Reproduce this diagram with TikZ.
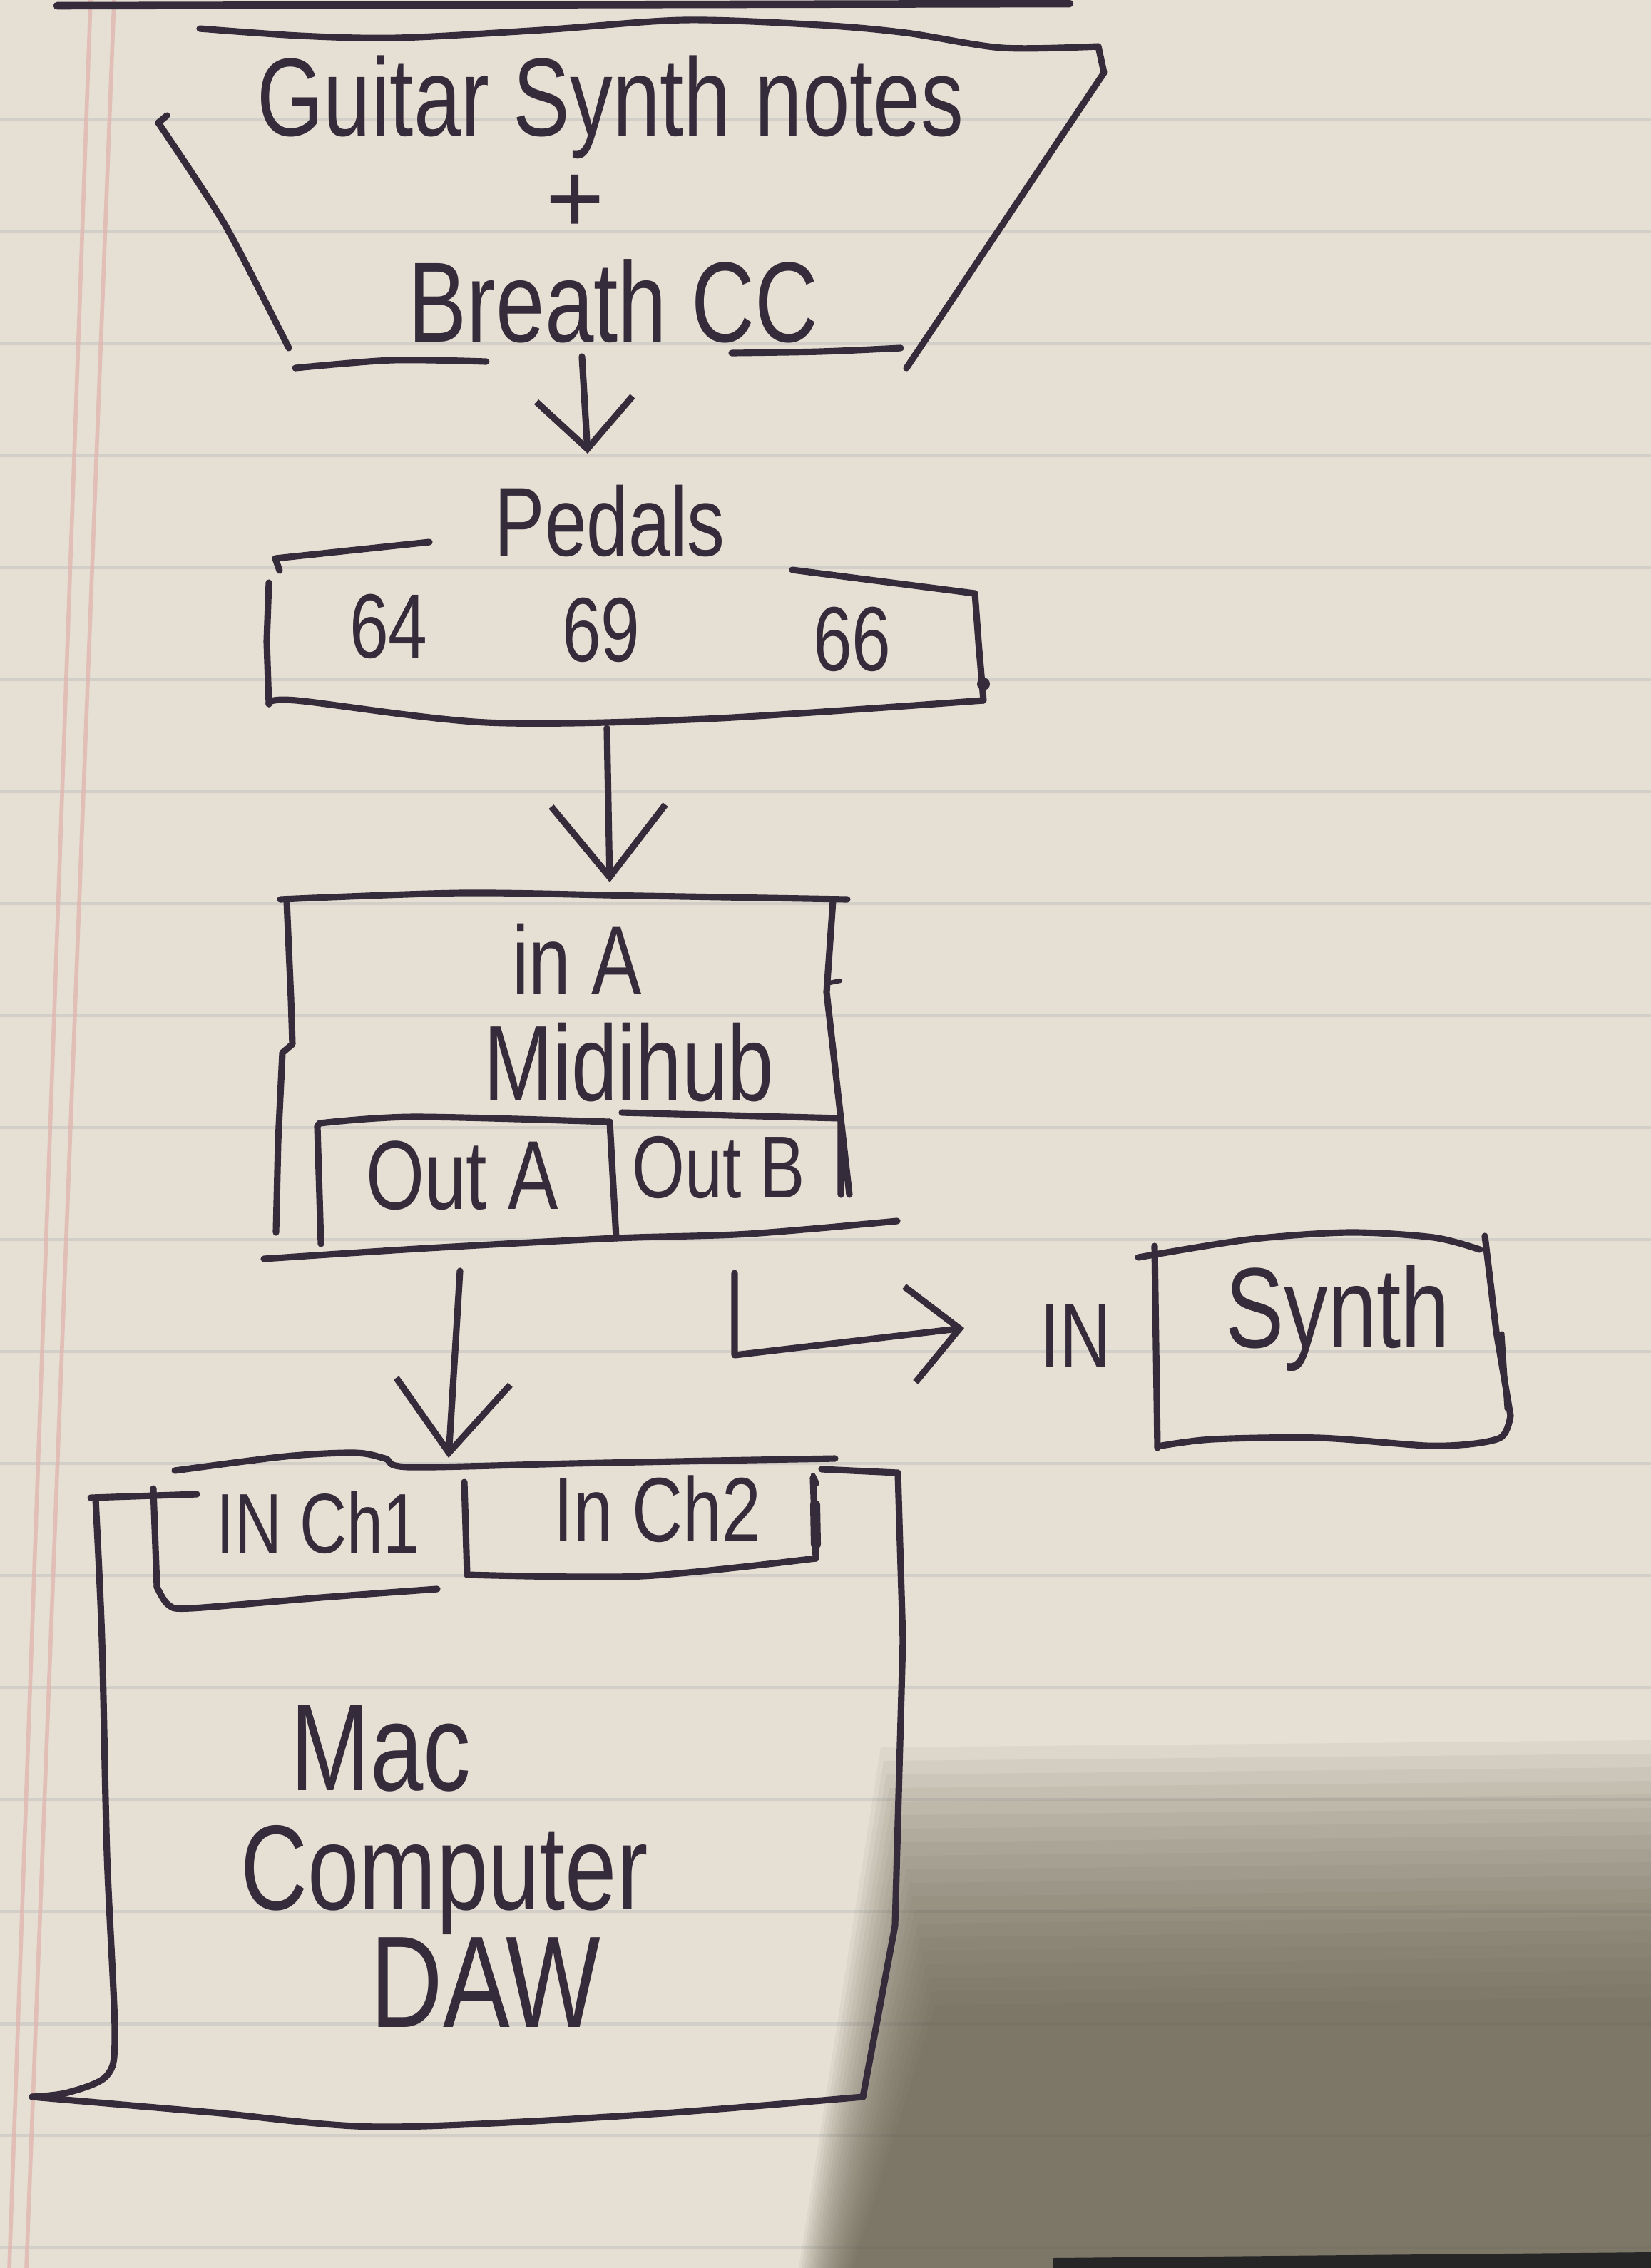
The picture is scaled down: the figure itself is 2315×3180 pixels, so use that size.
\documentclass[tikz,border=0pt]{standalone}
\usepackage{fontspec}
\setmainfont{Liberation Sans}
\usepackage{graphicx}
\usetikzlibrary{arrows.meta}
\definecolor{paper}{RGB}{229,223,212}
\definecolor{inkc}{RGB}{52,44,58}
\definecolor{rulec}{RGB}{196,194,192}
\definecolor{marginc}{RGB}{226,178,170}
\definecolor{shadowc}{RGB}{94,88,72}
\newcommand{\hwtext}[1]{\scalebox{1}[1.3]{#1}}
\newcommand{\fsz}[1]{\fontsize{#1}{#1}\selectfont}
\begin{document}
\begin{tikzpicture}[x=0.01cm,y=-0.01cm,
  ink/.style={draw=inkc,line width=2.6pt,line cap=round,line join=round},
  txt/.style={text=inkc,inner sep=0pt},
  arrV/.style={ink,-{Straight Barb[length=0.7cm,width=1.35cm]}},
  arrW/.style={ink,-{Straight Barb[length=1.0cm,width=1.6cm]}}]
\useasboundingbox (0,0) rectangle (2315,3180);
% paper
\fill[paper] (0,0) rectangle (2315,3180);
\foreach \k in {0,...,19}{
  \draw[rulec,line width=1.4pt,opacity=0.55] (0,168+157*\k) -- (2315,168+157*\k);
}
\draw[marginc,line width=1.6pt,opacity=0.7] (127,0) -- (13,3180);
\draw[marginc,line width=1.6pt,opacity=0.7] (160,0) -- (37,3180);
% photo shadow (soft, layered)
\foreach \i in {0,...,19}{
  \fill[shadowc,opacity=0.062] (1235+4*\i,2450+19*\i) -- (2315,2440+19*\i) -- (2315,3180) -- (1120+4*\i,3180) -- cycle;
}
\fill[black!85] (1476,3166) -- (2315,3158) -- (2315,3180) -- (1476,3180) -- cycle;
% top edge line
\draw[ink,line width=3pt] (80,8) -- (1500,5);

% ---- Guitar synth trapezoid
\draw[ink] plot[smooth,tension=0.5] coordinates {(280,40) (420,50) (557,53) (760,42) (959,28) (1150,35) (1271,46) (1405,67) (1540,65)};
\draw[ink] (1540,65) -- (1548,102) -- (1271,516);
\draw[ink] (234,162) -- (222,172);
\draw[ink] plot[smooth,tension=0.4] coordinates {(222,172) (316,316) (405,488)};
\draw[ink] plot[smooth] coordinates {(414,516) (550,505) (682,507)};
\draw[ink] plot[smooth] coordinates {(1026,495) (1150,493) (1263,488)};
\node[txt,font=\fsz{34}] (gsn) at (856,150) {\hwtext{Guitar Synth notes}};
\node[txt,font=\fsz{40}] (plus) at (807,286) {+};
\node[txt,font=\fsz{35}] (brc) at (860,422) {\hwtext{Breath CC}};

% arrow 1
\coordinate (a1s) at (816,500);
\coordinate (a1e) at (824,636);
\draw[arrV] (a1s) -- (a1e);

% ---- Pedals
\node[txt,font=\fsz{30}] (ped) at (855,730) {\hwtext{Pedals}};
\draw[ink] (392,800) -- (386,783) -- (602,760);
\draw[ink] (1111,799) -- (1367,832) -- (1372,900) -- (1379,982);
\fill[inkc] (1379,959) circle (9);
\draw[ink] (377,817) -- (374,900) -- (377,987);
\draw[ink] plot[smooth,tension=0.5] coordinates {(377,987) (415,982) (682,1013) (989,1008) (1379,982)};
\node[txt,font=\fsz{28}] (n64) at (545,878) {\hwtext{64}};
\node[txt,font=\fsz{28}] (n69) at (843,883) {\hwtext{69}};
\node[txt,font=\fsz{28}] (n66) at (1195,896) {\hwtext{66}};

% arrow 2
\coordinate (a2s) at (851,1021);
\coordinate (a2e) at (855,1237);
\draw[arrW] (a2s) -- (a2e);

% ---- Midihub
\draw[ink] plot[smooth,tension=0.5] coordinates {(393,1261) (648,1252) (900,1256) (1188,1261)};
\draw[ink] (402,1263) -- (408,1400) -- (410,1464) -- (396,1476) -- (390,1600) -- (387,1728);
\draw[ink] (1168,1263) -- (1159,1391) -- (1191,1675);
\draw[ink,line width=1.8pt] (1163,1378) -- (1178,1375);
\draw[ink] (450,1744) -- (445,1579) -- (448,1575);
\draw[ink] plot[smooth,tension=0.5] coordinates {(448,1575) (580,1566) (855,1573)};
\draw[ink] (855,1573) -- (864,1736);
\draw[ink] (872,1560) -- (1179,1568) -- (1179,1675);
\draw[ink] plot[smooth,tension=0.5] coordinates {(370,1765) (600,1750) (864,1736) (1050,1730) (1258,1712)};
\node[txt,font=\fsz{30}] (ina) at (809,1345) {\hwtext{in A}};
\node[txt,font=\fsz{33}] (mh) at (882,1490) {\hwtext{Midihub}};
\node[txt,font=\fsz{30}] (oa) at (648,1648) {\hwtext{Out A}};
\node[txt,font=\fsz{27}] (ob) at (1008,1637) {\hwtext{Out B}};

% arrow 3 (Out A -> IN Ch1)
\coordinate (a3s) at (645,1782);
\coordinate (a3e) at (629,2044);
\draw[arrW] (a3s) -- (a3e);

% elbow arrow (Out B -> Synth IN)
\coordinate (a4s) at (1030,1785);
\coordinate (a4m) at (1030,1900);
\coordinate (a4e) at (1352,1862);
\draw[arrV] (a4s) -- (a4m) -- (a4e);
\node[txt,font=\fsz{28}] (in) at (1508,1873) {\hwtext{IN}};

% ---- Synth
\draw[ink] (1619,1747) -- (1623,2030);
\draw[ink] plot[smooth,tension=0.5] coordinates {(1596,1763) (1750,1738) (1891,1728) (2010,1735) (2075,1752)};
\draw[ink] (2082,1733) -- (2098,1867) -- (2118,1985);
\draw[ink] plot[smooth,tension=0.6] coordinates {(2118,1985) (2105,2015) (2059,2025)};
\draw[ink] plot[smooth,tension=0.5] coordinates {(1623,2028) (1700,2018) (1850,2016) (2000,2027) (2059,2025)};
\draw[ink,line width=2pt] (2106,1870) -- (2113,1975);
\node[txt,font=\fsz{35}] (syn) at (1876,1848) {\hwtext{Synth}};

% ---- Mac computer
\draw[ink] plot[smooth,tension=0.5] coordinates {(245,2062) (400,2042) (498,2037) (540,2045) (574,2057) (800,2052) (1000,2048) (1171,2045)};
\draw[ink] (127,2100) -- (276,2095);
\draw[ink] plot[smooth,tension=0.5] coordinates {(134,2102) (143,2300) (150,2600) (161,2850) (150,2910) (95,2934) (45,2940)};
\draw[ink] plot[smooth,tension=0.5] coordinates {(45,2940) (300,2962) (536,2982) (900,2965) (1210,2940)};
\draw[ink] (1152,2060) -- (1259,2065) -- (1266,2300) -- (1255,2700) -- (1210,2940);
\draw[ink,line width=1.8pt] (1140,2068) -- (1146,2080);
\draw[ink] (215,2087) -- (220,2225);
\draw[ink] plot[smooth,tension=0.5] coordinates {(220,2225) (236,2250) (268,2255) (450,2240) (613,2228)};
\draw[ink] (651,2078) -- (655,2208);
\draw[ink] plot[smooth,tension=0.5] coordinates {(655,2208) (900,2210) (1144,2185)};
\draw[ink] (1144,2185) -- (1140,2072);
\draw[ink,line width=4pt] (1143,2110) -- (1144,2165);
\node[txt,font=\fsz{26}] (ch1) at (446,2135) {\hwtext{IN Ch1}};
\node[txt,font=\fsz{28}] (ch2) at (922,2116) {\hwtext{In Ch2}};
\node[txt,font=\fsz{38}] (mac) at (534,2452) {\hwtext{Mac}};
\node[txt,font=\fsz{37}] (comp) at (623,2636) {\hwtext{Computer}};
\node[txt,font=\fsz{40}] (daw) at (681,2780) {\hwtext{DAW}};
\end{tikzpicture}
\end{document}
